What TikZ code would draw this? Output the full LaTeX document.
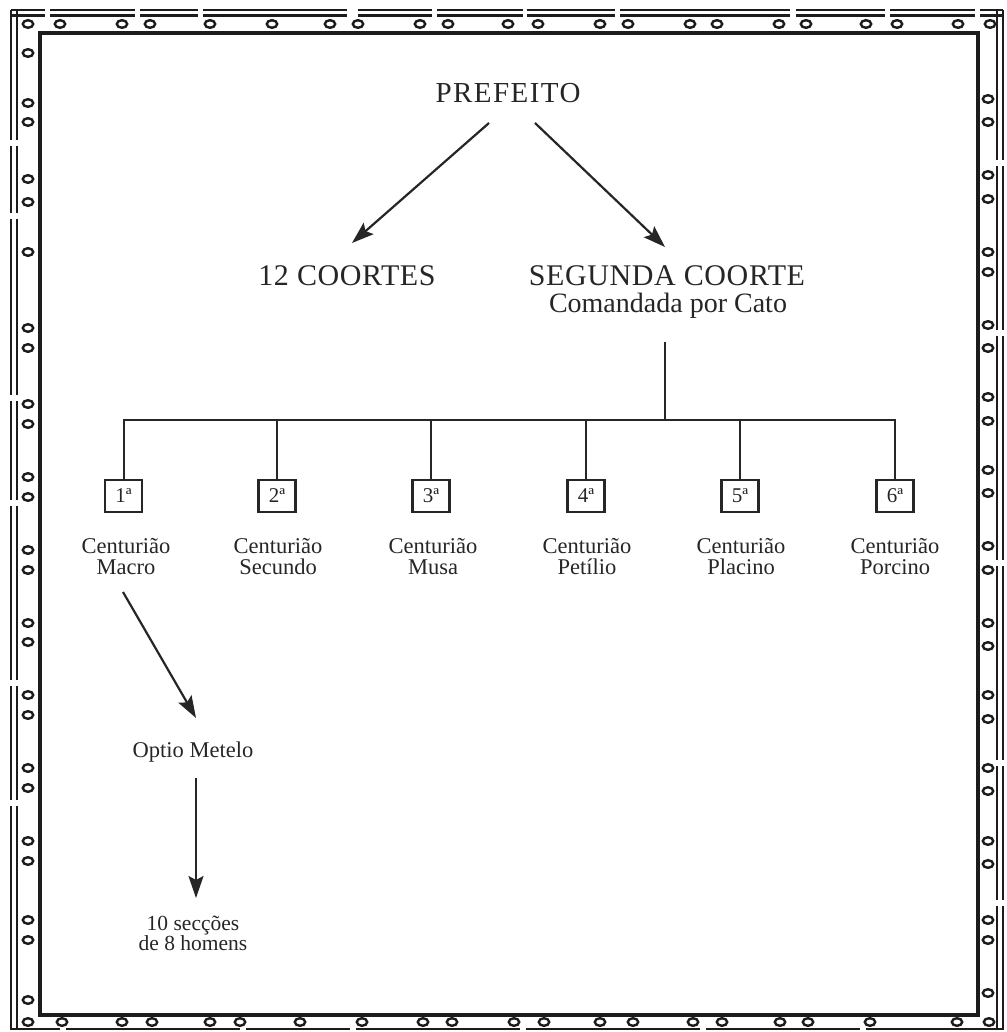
\documentclass[tikz,border=0pt]{standalone}
\usepackage{fontspec}
\setmainfont{Liberation Serif}
\usetikzlibrary{arrows.meta,calc}
\definecolor{ink}{HTML}{262626}
\definecolor{bord}{HTML}{1C1C1C}
\begin{document}
\begin{tikzpicture}[x=1pt,y=-1pt,
  txt/.style={inner sep=0pt, text=ink, align=center},
  caps/.style={txt, font=\fontsize{30}{32}\selectfont\addfontfeature{LetterSpace=2}},
  capswide/.style={txt, font=\fontsize{29}{32}\selectfont\addfontfeature{LetterSpace=5}},
  body/.style={txt, font=\fontsize{22.5}{21}\selectfont},
  sub/.style={txt, font=\fontsize{28}{30}\selectfont},
  small/.style={txt, font=\fontsize{21.5}{20}\selectfont},
  numbox/.style={draw=ink, line width=2.2pt, minimum width=37pt, minimum height=32pt, inner sep=0pt, text=ink, font=\fontsize{21}{22}\selectfont},
  arr/.style={draw=ink, line width=2.2pt, -{Stealth[length=22pt,width=15pt,inset=4pt]}},
  link/.style={draw=ink, line width=2pt},
  ring/.style={draw=bord, line width=2.4pt},
  frame/.style={draw=bord, line width=3.8pt},
  outer/.style={draw=bord, line width=2.6pt}]
\useasboundingbox (0,0) rectangle (1006,1032);
\fill[white] (0,0) rectangle (1006,1032);

% ---------- decorative border ----------
\draw[frame] (40,33) rectangle (978,1015);
% outer double lines, top
\foreach \a/\b in {11/45,50/135,140/198,203/347,358/432,437/523,527/615,620/790,796/885,890/975,980/1003}{
  \draw[outer] (\a,10) -- (\b,10);
  \draw[outer] (\a,15.5) -- (\b,15.5);}
% outer double lines, bottom
\foreach \a/\b in {11/60,66/240,246/350,356/520,526/700,706/860,866/1003}{
  \draw[outer] (\a,1029) -- (\b,1029);}
% outer double lines, left
\foreach \a/\b in {10/140,146/213,219/395,401/500,506/680,686/800,806/1030}{
  \draw[outer] (11,\a) -- (11,\b);
  \draw[outer] (17,\a) -- (17,\b);}
% outer double lines, right
\foreach \a/\b in {10/160,166/330,336/560,566/760,766/900,906/1030}{
  \draw[outer] (997,\a) -- (997,\b);
  \draw[outer] (1003,\a) -- (1003,\b);}
% rings, top
\foreach \x in {28,60,122,150,210,272,330,358,420,448,508,538,600,628,690,717,779,806,866,897,958,990}
  \draw[ring] (\x,24) ellipse (5.2 and 3.8);
% rings, bottom
\foreach \x in {28,62,122,152,210,240,300,362,423,452,514,544,600,633,693,722,780,808,870,957,989}
  \draw[ring] (\x,1022) ellipse (5.2 and 3.8);
% rings, left
\foreach \y in {53,103,122,179,202,252,328,348,404,424,477,497,550,570,623,642,695,715,768,788,841,861,920,940,1000}
  \draw[ring] (28,\y) ellipse (5.2 and 3.8);
% rings, right
\foreach \y in {99,122,175,199,252,272,325,348,397,421,470,493,546,570,623,646,695,719,768,791,841,864,920,940,993}
  \draw[ring] (988,\y) ellipse (5.2 and 3.8);

% ---------- nodes ----------
\node[capswide, anchor=base] (pref) at (508,103) {PREFEITO};
\node[caps, anchor=base] (coh) at (347,285) {12 COORTES};
\node[caps, anchor=base] (seg) at (667,285) {SEGUNDA COORTE};
\node[sub, anchor=base] (cato) at (668,312) {Comandada por Cato};

\node[numbox] (b1) at (123.5,496) {1ª};
\node[numbox] (b2) at (277,496) {2ª};
\node[numbox] (b3) at (431,496) {3ª};
\node[numbox] (b4) at (586,496) {4ª};
\node[numbox] (b5) at (740,496) {5ª};
\node[numbox] (b6) at (895,496) {6ª};

\node[body, anchor=base] (c1) at (126,574) {Centurião\\Macro};
\node[body, anchor=base] (c2) at (278,574) {Centurião\\Secundo};
\node[body, anchor=base] (c3) at (433,574) {Centurião\\Musa};
\node[body, anchor=base] (c4) at (587,574) {Centurião\\Petílio};
\node[body, anchor=base] (c5) at (741,574) {Centurião\\Placino};
\node[body, anchor=base] (c6) at (895,574) {Centurião\\Porcino};

\node[body, anchor=base] (opt) at (193,757) {Optio Metelo};
\node[small, anchor=base] (sec) at (193,950) {10 secções\\de 8 homens};

% ---------- connectors ----------
\draw[arr] ($(pref.base)+(-19,20)$) -- ($(coh.base)+(5,-42)$);
\draw[arr] ($(pref.base)+(27,20)$) -- ($(seg.base)+(-2,-38)$);

\coordinate (j) at (665,420);
\draw[link] ($(cato.base)+(-3,30)$) -- (j);
\draw[link] (b1.north) -- (b1.north |- j) -- (b6.north |- j) -- (b6.north);
\foreach \i in {2,...,5}
  \draw[link] (b\i.north) -- (b\i.north |- j);

\draw[arr] ($(c1.base)+(-3,18)$) -- ($(opt.base)+(3,-39)$);
\draw[arr] ($(opt.base)+(3,21)$) -- ($(sec.base)+(3,-52)$);
\end{tikzpicture}
\end{document}
